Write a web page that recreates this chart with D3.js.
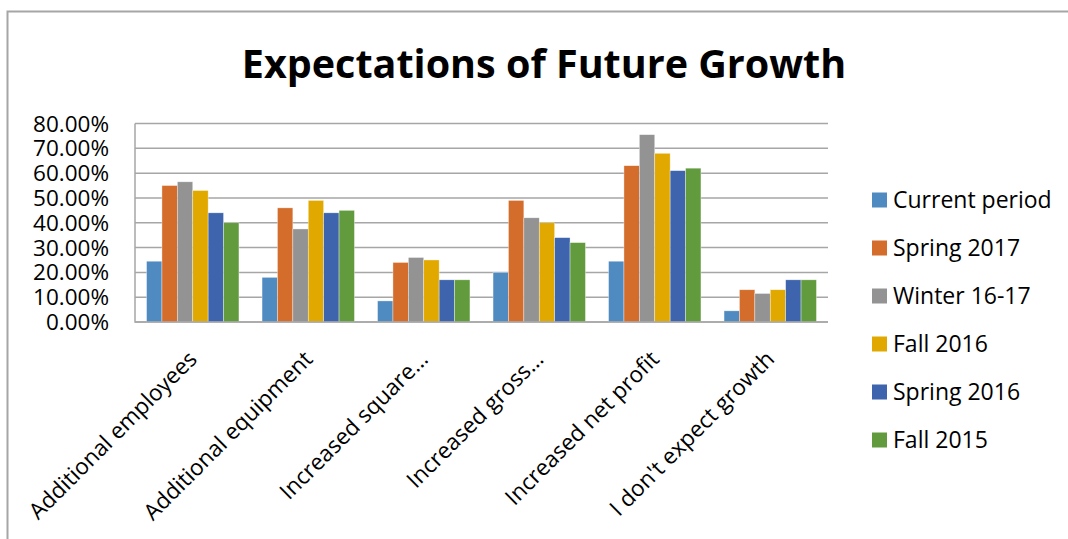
<!DOCTYPE html>
<html lang="en">
<head>
<meta charset="utf-8">
<title>Expectations of Future Growth</title>
<script type="text/javascript" src="https://d3js.org/d3.v7.min.js"></script>
<style>
body { margin: 0; background: #fff; }
text { font-family: "Open Sans", Lato, sans-serif; fill: #000; }
.grid line { stroke: #a6a6a6; stroke-width: 1.5; }
</style>
</head>
<body>
<div id="chart"></div>
<script type="text/javascript">

var categories = ["Additional employees", "Additional equipment", "Increased square\u2026",
    "Increased gross\u2026", "Increased net profit", "I don't expect growth"];

var seriesNames = ["Current period", "Spring 2017", "Winter 16-17", "Fall 2016", "Spring 2016", "Fall 2015"];

var seriesColors = ["#4f8bc0", "#d46d2c", "#939393", "#e1a900", "#3d64ad", "#629b3e"];

// one row per series, one value per category (fractions)
var currentPeriod = [0.245, 0.18, 0.085, 0.20, 0.245, 0.045];
var spring2017    = [0.55, 0.46, 0.24, 0.49, 0.63, 0.13];
var winter1617    = [0.565, 0.375, 0.26, 0.42, 0.755, 0.115];
var fall2016      = [0.53, 0.49, 0.25, 0.40, 0.68, 0.13];
var spring2016    = [0.44, 0.44, 0.17, 0.34, 0.61, 0.17];
var fall2015      = [0.40, 0.45, 0.17, 0.32, 0.62, 0.17];

var yTicks = [0, 0.1, 0.2, 0.3, 0.4, 0.5, 0.6, 0.7, 0.8];

var series = [currentPeriod, spring2017, winter1617, fall2016, spring2016, fall2015];

var width = 1068, height = 539;
var plot = {left: 135, right: 828, top: 123.5, bottom: 322};

var svg = d3.select("#chart").append("svg")
    .attr("width", width)
    .attr("height", height);

// chart frame (only top and left edges are visible in the crop)
svg.append("path")
    .attr("d", "M7.5," + height + "V11.5H" + width)
    .attr("fill", "none")
    .attr("stroke", "#a6a6a6")
    .attr("stroke-width", 2);

svg.append("text")
    .attr("x", 544)
    .attr("y", 78)
    .attr("text-anchor", "middle")
    .style("font-size", "39.5px")
    .style("font-weight", "bold")
    .text("Expectations of Future Growth");

var x0 = d3.scaleBand()
    .domain(categories)
    .range([plot.left, plot.right])
    .paddingInner(0.2)
    .paddingOuter(0.1);

var x1 = d3.scaleBand()
    .domain(d3.range(seriesNames.length))
    .range([0, x0.bandwidth()]);

var y = d3.scaleLinear()
    .domain([0, 0.8])
    .range([plot.bottom, plot.top]);

var fmt = d3.format(".2%");

// gridlines
svg.append("g")
    .attr("class", "grid")
    .selectAll("line")
    .data(yTicks)
    .enter().append("line")
        .attr("x1", plot.left)
        .attr("x2", plot.right)
        .attr("y1", function(d) { return y(d); })
        .attr("y2", function(d) { return y(d); });

// bars
var group = svg.append("g").selectAll("g")
    .data(categories)
    .enter().append("g")
        .attr("transform", function(d) { return "translate(" + x0(d) + ",0)"; });

group.selectAll("rect")
    .data(function(d, i) { return series.map(function(s, j) { return {s: j, v: s[i]}; }); })
    .enter().append("rect")
        .attr("x", function(d) { return x1(d.s); })
        .attr("width", x1.bandwidth())
        .attr("y", function(d) { return y(d.v); })
        .attr("height", function(d) { return y(0) - y(d.v); })
        .attr("fill", function(d) { return seriesColors[d.s]; })
        .attr("stroke", "#fff")
        .attr("stroke-width", 0.6)
        .attr("stroke-opacity", 0.6);

// axis lines
svg.append("path")
    .attr("d", "M" + plot.left + "," + plot.top + "V" + plot.bottom + "H" + plot.right)
    .attr("fill", "none")
    .attr("stroke", "#a6a6a6")
    .attr("stroke-width", 1.5);

// y labels
svg.append("g").selectAll("text")
    .data(yTicks)
    .enter().append("text")
        .attr("x", 109)
        .attr("y", function(d) { return y(d); })
        .attr("dy", "0.36em")
        .attr("text-anchor", "end")
        .style("font-size", "22.5px")
        .text(fmt);

// x labels, rotated
svg.append("g").selectAll("text")
    .data(categories)
    .enter().append("text")
        .attr("transform", function(d) {
            var cx = x0(d) + x0.bandwidth() / 2;
            return "translate(" + cx + ",355) rotate(-45)";
        })
        .attr("text-anchor", "end")
        .attr("dy", "0.35em")
        .style("font-size", "22.5px")
        .text(function(d) { return d; });

// legend
var legend = svg.append("g").selectAll("g")
    .data(seriesNames)
    .enter().append("g")
        .attr("transform", function(d, i) { return "translate(872," + (200 + i * 48) + ")"; });

legend.append("rect")
    .attr("y", -7.5)
    .attr("width", 15)
    .attr("height", 15)
    .attr("fill", function(d, i) { return seriesColors[i]; });

legend.append("text")
    .attr("x", 21)
    .attr("dy", "0.36em")
    .style("font-size", "23px")
    .text(function(d) { return d; });

</script>
</body>
</html>
